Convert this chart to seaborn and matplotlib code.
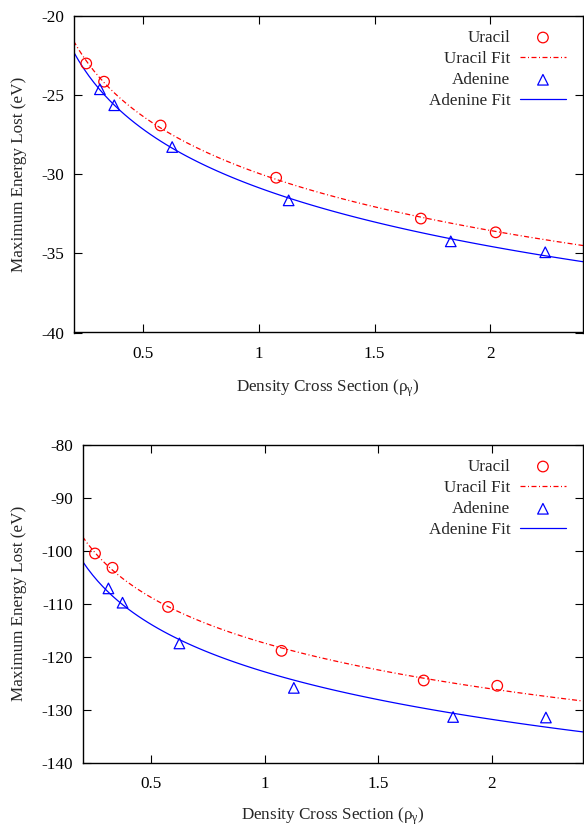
import numpy as np
import pandas as pd
import matplotlib
matplotlib.use("Agg")
import matplotlib.pyplot as plt
import seaborn as sns

# ---- data ----
uracil_x = [0.255, 0.332, 0.576, 1.075, 1.700, 2.023]
adenine_x = [0.314, 0.376, 0.626, 1.129, 1.829, 2.237]
uracil_top = [-23.0, -24.15, -26.92, -30.22, -32.8, -33.67]
adenine_top = [-24.63, -25.64, -28.28, -31.65, -34.24, -34.93]
uracil_bottom = [-100.5, -103.2, -110.6, -118.9, -124.5, -125.5]
adenine_bottom = [-107.1, -109.8, -117.5, -125.9, -131.4, -131.5]

x_ticks = [0.5, 1, 1.5, 2]
x_tick_labels = ["0.5", "1", "1.5", "2"]
top_yticks = [-40, -35, -30, -25, -20]
bottom_yticks = [-140, -130, -120, -110, -100, -90, -80]
series_labels = ["Uracil", "Uracil Fit", "Adenine", "Adenine Fit"]
x_label = r"Density Cross Section ($\mathregular{ρ_{γ}}$)"
y_label = "Maximum Energy Lost (eV)"

sns.set_style("ticks")
plt.rcParams["font.family"] = ["Liberation Serif", "DejaVu Serif"]
plt.rcParams["mathtext.fontset"] = "stix"
FS = 12.3

W, H = 584, 830
fig = plt.figure(figsize=(W / 100, H / 100), dpi=100)

RED = "#ff0000"
BLUE = "#0000ff"
dashdot = (0, (4.0, 2.0, 0.8, 2.0))


def panel(rect, u_y, a_y, ylim, yticks, xlab_base, ylab_center):
    l, t, r, b = rect
    ax = fig.add_axes([l / W, 1 - b / H, (r - l) / W, (b - t) / H])
    ax.set_xlim(0.2, 2.4)
    ax.set_ylim(*ylim)
    du = pd.DataFrame({"x": uracil_x, "y": u_y})
    da = pd.DataFrame({"x": adenine_x, "y": a_y})
    sns.scatterplot(data=du, x="x", y="y", ax=ax, marker="o", s=58,
                    facecolors="none", edgecolors=RED, linewidths=0.9,
                    label=series_labels[0], zorder=3)
    sns.regplot(data=du, x="x", y="y", ax=ax, logx=True, ci=None,
                scatter=False, truncate=False, color=RED,
                line_kws=dict(lw=0.9, ls=dashdot), label=series_labels[1])
    sns.scatterplot(data=da, x="x", y="y", ax=ax, marker="^", s=58,
                    facecolors="none", edgecolors=BLUE, linewidths=0.9,
                    label=series_labels[2], zorder=3)
    sns.regplot(data=da, x="x", y="y", ax=ax, logx=True, ci=None,
                scatter=False, truncate=False, color=BLUE,
                line_kws=dict(lw=0.9, ls="-"), label=series_labels[3])
    ax.set_xlim(0.2, 2.4)
    ax.set_ylim(*ylim)
    ax.set_xticks(x_ticks)
    ax.set_xticklabels(x_tick_labels)
    ax.set_yticks(yticks)
    ax.set_yticklabels([str(v) for v in yticks])
    ax.set_xlabel("")
    ax.set_ylabel("")
    for s in ax.spines.values():
        s.set_visible(True)
        s.set_linewidth(1.0)
        s.set_color("black")
    ax.tick_params(direction="in", length=5.8, width=0.8, top=True,
                   right=True, labelsize=FS, colors="black")
    ax.tick_params(axis="x", pad=10)
    ax.tick_params(axis="y", pad=7)
    h, lab = ax.get_legend_handles_labels()
    order = [lab.index(n) for n in series_labels]
    ax.legend([h[i] for i in order], [lab[i] for i in order],
              loc="upper right",
              bbox_to_anchor=((566 - l) / (r - l), 1 - 14 / (b - t)),
              frameon=False, markerfirst=False, fontsize=FS,
              handlelength=2.7, handletextpad=0.55, labelspacing=0.3,
              borderaxespad=0, borderpad=0, scatterpoints=1)
    fig.text((l + r) / 2 / W, 1 - xlab_base / H, x_label, ha="center",
             va="baseline", fontsize=FS)
    fig.text(19 / W, 1 - ylab_center / H, y_label, ha="center",
             va="center", rotation=90, fontsize=FS)
    return ax


panel((73.5, 16, 583, 332.5), uracil_top, adenine_top, (-40, -20),
      top_yticks, 392, 174)
panel((82.5, 445, 583, 762.5), uracil_bottom, adenine_bottom, (-140, -80),
      bottom_yticks, 820, 603)

fig.savefig("out.png", dpi=100)
